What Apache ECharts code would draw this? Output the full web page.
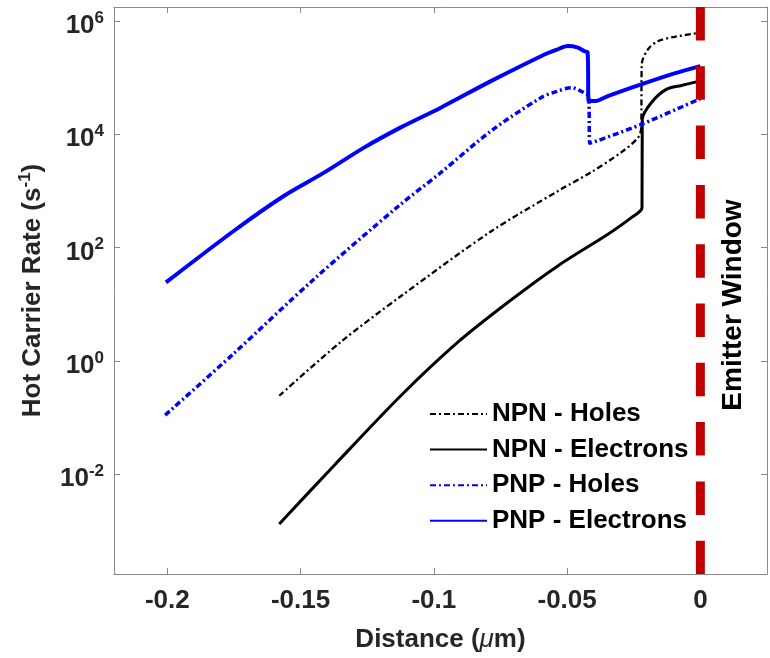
<!DOCTYPE html>
<html><head><meta charset="utf-8">
<script src="https://cdn.jsdelivr.net/npm/echarts@6/dist/echarts.min.js"></script>
<style>html,body{margin:0;padding:0;background:#fff}#c{width:770px;height:658px}</style>
</head><body><div id="c"></div><script>
// ---- data (x in µm, y in s^-1) ----
const xTicks = [-0.2, -0.15, -0.1, -0.05, 0];
const yTickExp = [-2, 0, 2, 4, 6];
const xRange = [-0.22, 0.025];
const yRangeExp = [-3.764, 6.247];

const npnHolesX = [-0.158, -0.135, -0.1124, -0.0786, -0.0523, -0.041, -0.0297, -0.0233, -0.0222, -0.022, -0.0197, -0.0159, -0.0097, 0];
const npnHolesY = [0.2415, 2.14, 13.8, 192, 1067, 2130, 4800, 8810, 13200, 171000, 314000, 441000, 526000, 619000];

const npnElecX = [-0.158, -0.1375, -0.1124, -0.0911, -0.0723, -0.0535, -0.0347, -0.0259, -0.0219, -0.0218, -0.0184, -0.0128, -0.0071, 0];
const npnElecY = [0.001318, 0.01406, 0.2415, 2.11, 10.7, 47.4, 172, 338, 507, 18300, 36100, 61900, 72800, 86700];

const pnpHolesX = [-0.2008, -0.1751, -0.145, -0.1132, -0.0974, -0.0786, -0.0598, -0.0538, -0.0485, -0.0436, -0.0419, -0.0415, -0.0222, 0];
const pnpHolesY = [0.110, 1.34, 27.6, 542, 2100, 11380, 44300, 57100, 66400, 54200, 46600, 6920, 14960, 42500];

const pnpElecX = [-0.2005, -0.1751, -0.1563, -0.1412, -0.1262, -0.1124, -0.0974, -0.0786, -0.0598, -0.0541, -0.0497, -0.0462, -0.0435, -0.0423, -0.0419, -0.0391, -0.0347, -0.0222, -0.0097, 0];
const pnpElecY = [24.2, 196, 813, 2100, 5810, 13240, 29500, 86700, 239000, 308000, 360000, 341000, 293000, 278000, 38500, 38800, 47200, 75900, 118600, 159600];

const seriesNames = ['NPN - Holes', 'NPN - Electrons', 'PNP - Holes', 'PNP - Electrons'];
const emitterX = 0;
const emitterLabel = 'Emitter Window';

// ---- build ----
const FONT = '"Liberation Sans", Arial, sans-serif';
const frameColor = '#8a8a8a';
const toPts = (xs, ys) => xs.map((x, i) => [x, Math.log10(ys[i])]);

const baseX = {
  type: 'value', min: xRange[0], max: xRange[1],
  axisLine: { onZero: false, lineStyle: { color: frameColor, width: 1 } },
  axisTick: { inside: true, length: 6, customValues: xTicks, lineStyle: { color: frameColor } },
  splitLine: { show: false }
};
const baseY = {
  type: 'value', min: yRangeExp[0], max: yRangeExp[1],
  axisLine: { onZero: false, lineStyle: { color: frameColor, width: 1 } },
  axisTick: { inside: true, length: 6, customValues: yTickExp, lineStyle: { color: frameColor } },
  splitLine: { show: false }
};
const smoothOpts = { smooth: 0.3 };

const chart = echarts.init(document.getElementById('c'), null, { renderer: 'canvas' });
chart.setOption({
  animation: false,
  backgroundColor: '#fff',
  grid: { left: 114, top: 7, width: 653, height: 568 },
  xAxis: [
    Object.assign({}, baseX, {
      position: 'bottom',
      axisLabel: { customValues: xTicks, formatter: v => String(v), color: '#262626', fontSize: 26, fontWeight: 'bold', fontFamily: FONT, margin: 14 },
      name: '{a|Distance (}{m|\u03bc}{a|m)}',
      nameLocation: 'middle', nameGap: 53,
      nameTextStyle: { rich: {
        a: { fontSize: 26, fontWeight: 'bold', fontFamily: FONT, color: '#262626' },
        m: { fontSize: 26, fontStyle: 'italic', fontWeight: 'normal', fontFamily: FONT, color: '#262626' }
      } }
    }),
    Object.assign({}, baseX, { position: 'top', axisLabel: { show: false } })
  ],
  yAxis: [
    Object.assign({}, baseY, {
      position: 'left',
      axisLabel: {
        customValues: yTickExp, margin: 10,
        formatter: v => '{b|10}{e|' + v + '}',
        rich: {
          b: { fontSize: 26, fontWeight: 'bold', fontFamily: FONT, color: '#262626', padding: [10, 0, 0, 0] },
          e: { fontSize: 17, fontWeight: 'bold', fontFamily: FONT, color: '#262626', padding: [0, 0, 6, 0] }
        }
      },
      name: '{a|Hot Carrier Rate (s}{e|-1}{a|)}',
      nameLocation: 'middle', nameGap: 68,
      nameTextStyle: { rich: {
        a: { fontSize: 26, fontWeight: 'bold', fontFamily: FONT, color: '#262626', padding: [8, 0, 0, 0] },
        e: { fontSize: 17, fontWeight: 'bold', fontFamily: FONT, color: '#262626', padding: [0, 0, 8, 0] }
      } }
    }),
    Object.assign({}, baseY, { position: 'right', axisLabel: { show: false } })
  ],
  legend: {
    orient: 'vertical', left: 429, top: 401, padding: 0,
    itemWidth: 57, itemHeight: 14, itemGap: 9.6,
    data: seriesNames,
    itemStyle: { opacity: 0 },
    textStyle: { fontSize: 26, fontWeight: 'bold', fontFamily: FONT, color: '#000', lineHeight: 26 }
  },
  graphic: [{
    type: 'text', x: 733, y: 305, rotation: Math.PI / 2,
    style: { text: emitterLabel, fontSize: 28, fontWeight: 'bold', fontFamily: FONT, fill: '#000', align: 'center', verticalAlign: 'middle' }
  }],
  series: [
    Object.assign({ name: seriesNames[0], type: 'line', symbol: 'none', data: toPts(npnHolesX, npnHolesY),
      lineStyle: { color: '#000', width: 2.3, type: [6, 3, 2, 3] }, itemStyle: { color: '#000' }, z: 3 }, smoothOpts),
    Object.assign({ name: seriesNames[1], type: 'line', symbol: 'none', data: toPts(npnElecX, npnElecY),
      lineStyle: { color: '#000', width: 3 }, itemStyle: { color: '#000' }, z: 3 }, smoothOpts),
    Object.assign({ name: seriesNames[2], type: 'line', symbol: 'none', data: toPts(pnpHolesX, pnpHolesY),
      lineStyle: { color: '#0000ff', width: 3.5, type: [6, 3, 2, 3] }, itemStyle: { color: '#0000ff' }, z: 3 }, smoothOpts),
    Object.assign({ name: seriesNames[3], type: 'line', symbol: 'none', data: toPts(pnpElecX, pnpElecY),
      lineStyle: { color: '#0000ff', width: 4 }, itemStyle: { color: '#0000ff' }, z: 3 }, smoothOpts),
    { name: 'emitter', type: 'line', symbol: 'none', silent: true, z: 5,
      data: [[emitterX, yRangeExp[1]], [emitterX, yRangeExp[0]]],
      lineStyle: { color: '#c00000', width: 9, type: [33.5, 25.8], cap: 'butt' } }
  ]
});
</script></body></html>
